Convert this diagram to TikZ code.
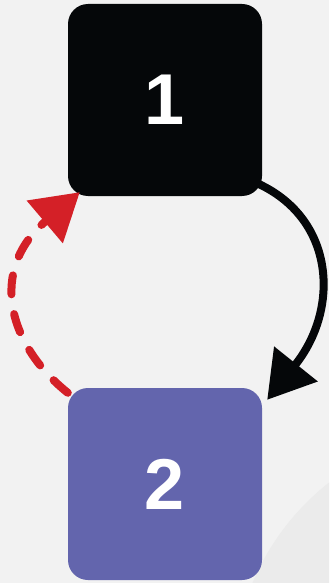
\documentclass[tikz,border=0pt]{standalone}
\usepackage{fontspec}
\setmainfont{Liberation Sans}
\usetikzlibrary{arrows.meta,calc}
\definecolor{bgc}{HTML}{F2F2F2}
\definecolor{circc}{HTML}{EBEBEB}
\definecolor{boxone}{HTML}{050709}
\definecolor{boxtwo}{HTML}{6365AD}
\definecolor{redc}{HTML}{D42027}
\tikzset{
  box/.style={rounded corners=20pt, minimum width=194pt, minimum height=192pt,
    inner sep=0pt, text=white, font=\fontsize{72}{72}\selectfont\bfseries},
  conn/.style={line width=8pt, -{Triangle[length=46pt,width=54pt]}},
}
\begin{document}
\begin{tikzpicture}[x=1pt,y=-1pt]
\fill[bgc] (0,0) rectangle (329,583);
\begin{scope}
\clip (0,0) rectangle (329,583);
\fill[circc] (484,680) circle (251);
\end{scope}
\useasboundingbox (0,0) rectangle (329,583);
\node[box, fill=boxone] (b1) at (165,100) {1};
\node[box, fill=boxtwo] (b2) at (165,484) {2};
\draw[conn, draw=boxone]
  ([shift={(-3,-12)}]b1.south east) .. controls (335,220) and (340,309) .. ([shift={(5,12)}]b2.north east);
\draw[conn, draw=redc, dash pattern=on 19pt off 20pt, line cap=round]
  ([shift={(0,5)}]b2.north west) .. controls (8,345) and (-12,270) .. ([shift={(12,-4)}]b1.south west);
\end{tikzpicture}
\end{document}
